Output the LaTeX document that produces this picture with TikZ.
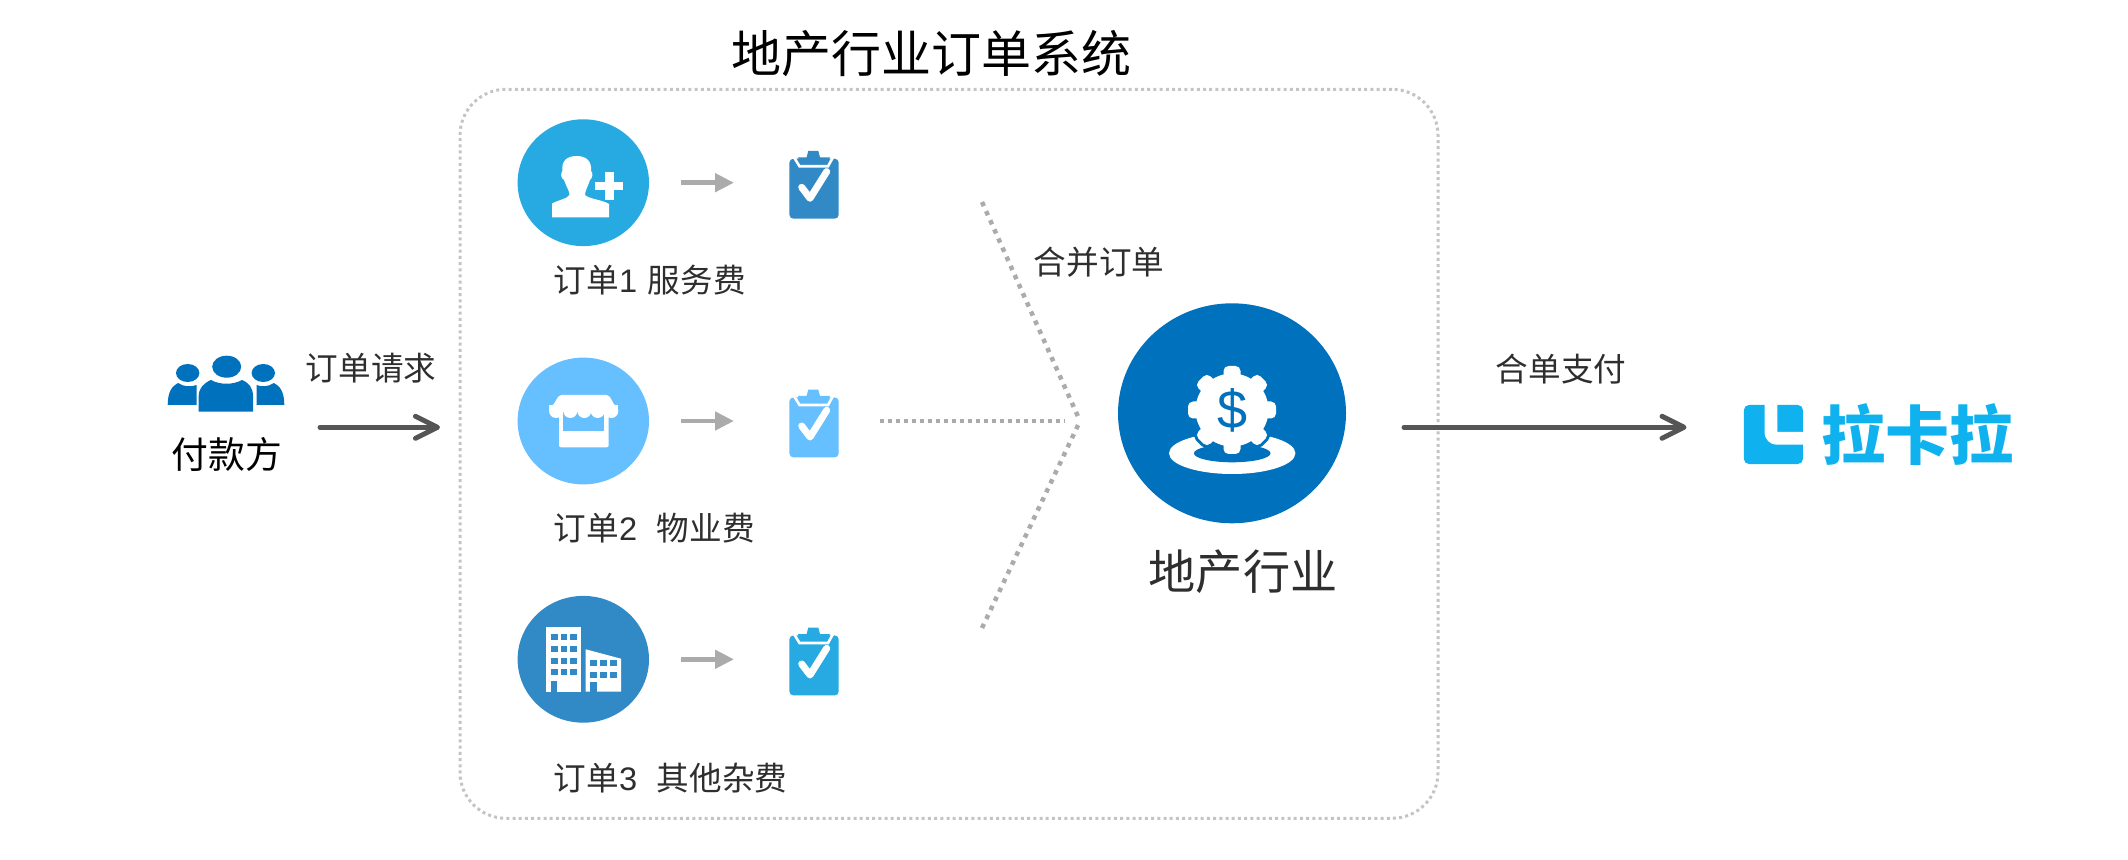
\documentclass[tikz,border=0pt]{standalone}
\usepackage{fontspec}
\setmainfont{Noto Sans CJK SC}
\newfontfamily\digitfont{Liberation Sans}
\usetikzlibrary{arrows.meta,shapes.geometric}
\newlength{\du}
\setlength{\du}{0.5pt}
\definecolor{deepblue}{HTML}{0071BC}
\definecolor{skyblue}{HTML}{27AAE1}
\definecolor{paleblue}{HTML}{66BFFF}
\definecolor{midblue}{HTML}{318AC6}
\definecolor{logoblue}{HTML}{0FB2EE}
\definecolor{framegray}{HTML}{C4C4C4}
\definecolor{dotgray}{HTML}{ABABAB}
\definecolor{arrowgray}{HTML}{555555}
\definecolor{inkgray}{HTML}{2E2E2E}
\tikzset{
  roundicon/.style={ellipse,inner sep=0pt,minimum width=131.4\du,minimum height=126.8\du},
  clipbody/.style={rectangle,rounded corners=2pt,inner sep=0pt,minimum width=49.3\du,minimum height=60\du,anchor=north west},
  smalltext/.style={font=\fontsize{16.3pt}{18pt}\selectfont,text=inkgray,inner sep=0pt},
  ordertext/.style={smalltext,anchor=west},
  bigarrow/.style={arrowgray,line width=2.5pt,line cap=round,-{Straight Barb[round,length=11pt,width=11pt]}},
  minorarrow/.style={dotgray,line width=2.35pt,-{Triangle[length=9.5pt,width=9pt]}},
  mergeline/.style={dotgray,line width=2.25pt,dash pattern=on 2.25pt off 2.75pt},
}
% clipboard: name, x, y, colour
\newcommand{\clipboard}[4]{
  \node[clipbody,fill=#4] (#1) at (#2,#3) {};
  \begin{scope}[shift={(#2,#3)}]
    \draw[white,line width=1.3pt] (5,-1)--(10.5,8)--(39,8)--(44,-1);
    \fill[#4] (19.3,-7.3)--(29.3,-7.3)--(31,-1)--(41,-1)--(37.7,5)--(12.7,5)--(8.7,-1)--(17.6,-1)--cycle;
    \draw[white,line width=3.5pt,line cap=round,line join=round] (12.7,29)--(21,40)--(37.7,13.3);
  \end{scope}
}
\begin{document}
\begin{tikzpicture}[x=\du,y=-\du]
\useasboundingbox (0,0) rectangle (2128,860);
% frame and title
\node[draw=framegray,line width=1.5pt,dash pattern=on 1.5pt off 1.6pt,rounded corners=23pt,inner sep=0pt,minimum width=978\du,minimum height=729\du] (frame) at (949,453.8) {};
\node[font=\fontsize{25pt}{28pt}\selectfont,text=black,inner sep=0pt] (title) at (931,54) {地产行业订单系统};
% payer
\fill[deepblue] (187.7,373) ellipse [x radius=11.7,y radius=9];
\fill[deepblue] (263.3,373) ellipse [x radius=11.7,y radius=9];
\fill[deepblue] (167.7,405) .. controls (167.7,392) and (172,386) .. (178,383) .. controls (184,387) and (191,387) .. (196.7,385)--(196.7,405)--cycle;
\fill[deepblue] (284.3,405) .. controls (284.3,392) and (280,386) .. (274,383) .. controls (268,387) and (261,387) .. (256.7,385)--(256.7,405)--cycle;
\fill[deepblue] (226.7,366.7) ellipse [x radius=14.5,y radius=11];
\fill[deepblue] (198.7,411.7)--(198.7,396) .. controls (198.7,388) and (204,383) .. (211,380) .. controls (220,385) and (233,385) .. (242,380) .. controls (249,383) and (253,388) .. (253,396)--(253,411.7)--cycle;
\node[font=\fontsize{18.4pt}{20pt}\selectfont,text=black,inner sep=0pt] (payer) at (227,454) {付款方};
\node[smalltext] (reqlabel) at (371,368) {订单请求};
\coordinate (reqfrom) at (320,427.3);
\draw[bigarrow,shorten >=18.5\du] (reqfrom) -- (frame.west |- reqfrom);
% order 1
\node[roundicon,fill=skyblue] (ordera) at (583.3,182.7) {};
\fill[white] (552,217.3)--(552,203.5) .. controls (558,200) and (567,199) .. (569.5,195) .. controls (570,192) and (566,186) .. (564,180) .. controls (560,178) and (561,172) .. (562.5,171) .. controls (561,161) and (567,156) .. (576.7,156) .. controls (586,156) and (592,161) .. (591,171) .. controls (593,172) and (593,178) .. (590,180) .. controls (588,186) and (585,191) .. (585,195) .. controls (589,199) and (603,200) .. (609,204)--(609,217.3)--cycle;
\draw[skyblue,line width=2.5pt] (595,186.2)--(623.3,186.2) (609.2,172.3)--(609.2,200);
\draw[white,line width=4.3pt] (595,186.2)--(623.3,186.2) (609.2,172.3)--(609.2,200);
\clipboard{clipa}{789}{158.3}{midblue}
\draw[minorarrow,shorten <=32\du,shorten >=55\du] (ordera) -- (clipa.west |- ordera);
\node[ordertext] (labela) at (553.5,280) {订单{\digitfont 1}\hspace{0.33em}服务费};
% order 2
\node[roundicon,fill=paleblue] (orderb) at (583.3,421) {};
\fill[white,rounded corners=1pt] (559.3,395)--(608.7,395)--(618.3,411.7)--(549,411.7)--cycle;
\fill[white,rounded corners=1pt] (559,405)--(608.7,405)--(608.7,447.3)--(559,447.3)--cycle;
\fill[paleblue] (563.3,408)--(604,408)--(604,430.7)--(563.3,430.7)--cycle;
\fill[white] (549,405)--(618.3,405)--(618.3,411.7)--(549,411.7)--cycle;
\foreach \sx/\sr in {556/7,570.3/7,584.3/7,597.7/7,611.3/7}
  \fill[white] (\sx,411) circle [radius=\sr];
\clipboard{clipb}{789}{397}{paleblue}
\draw[minorarrow,shorten <=32\du,shorten >=55\du] (orderb) -- (clipb.west |- orderb);
\node[ordertext] (labelb) at (553.5,528) {订单{\digitfont 2}\hspace{0.6em}物业费};
% order 3
\node[roundicon,fill=midblue] (orderc) at (583.3,659.3) {};
\fill[white] (546,627.3)--(581.3,627.3)--(581.3,691.7)--(546,691.7)--cycle;
\fill[white] (585.7,649.3)--(621,658.7)--(621,691.7)--(585.7,691.7)--cycle;
\foreach \wy in {634,645.7,657.7,669.3}
  \foreach \wx in {551,560.7,570.3}
    \fill[midblue] (\wx,\wy) rectangle ++(6.7,6);
\foreach \wy in {660,671.7}
  \foreach \wx in {590.3,600,610}
    \fill[midblue] (\wx,\wy) rectangle ++(6.7,6);
\fill[midblue] (551,681) rectangle (557.3,691.7);
\fill[midblue] (590.3,682) rectangle (596.7,691.7);
\clipboard{clipc}{789}{635}{skyblue}
\draw[minorarrow,shorten <=32\du,shorten >=55\du] (orderc) -- (clipc.west |- orderc);
\node[ordertext] (labelc) at (553.5,778) {订单{\digitfont 3}\hspace{0.6em}其他杂费};
% merge
\coordinate (mergetop) at (982,202);
\coordinate (mergetip) at (1080,421);
\coordinate (mergebot) at (982,628);
\draw[mergeline] (mergetop) -- (mergetip);
\draw[mergeline] (mergebot) -- (mergetip);
\draw[dotgray,line width=1.8pt,dash pattern=on 2pt off 2pt,shorten <=41\du,shorten >=15\du] (clipb.east |- mergetip) -- (mergetip);
\node[smalltext] (mergelabel) at (1099,262) {合并订单};
% industry
\node[ellipse,fill=deepblue,inner sep=0pt,minimum width=228\du,minimum height=220\du] (estate) at (1232,413.3) {};
\fill[white] (1232.2,453.3) ellipse [x radius=63.2,y radius=20.7];
\fill[deepblue] (1232.2,453.3) ellipse [x radius=38.3,y radius=9];
\fill[deepblue] (1232,410) circle [radius=41];
\foreach \a in {0,45,...,315}
  \draw[deepblue,line width=3pt,rounded corners=2.5pt,rotate around={\a:(1232,410)}] (1223.5,366)--(1240.5,366)--(1240.5,410)--(1223.5,410)--cycle;
\fill[white] (1232,410) circle [radius=36.5];
\foreach \a in {0,45,...,315}
  \fill[white,rounded corners=2.5pt,rotate around={\a:(1232,410)}] (1223.5,366)--(1240.5,366)--(1240.5,410)--(1223.5,410)--cycle;
\node[font=\fontsize{27pt}{30pt}\selectfont\digitfont,text=deepblue,inner sep=0pt] (dollar) at (1232,410) {\$};
\node[font=\fontsize{23.6pt}{26pt}\selectfont,text=inkgray,inner sep=0pt] (estatelabel) at (1243,572) {地产行业};
% pay out
\node[smalltext] (paylabel) at (1561,369) {合单支付};
\node[fill=logoblue,rounded corners=2.5pt,inner sep=0pt,minimum size=59\du] (logomark) at (1773.4,434.5) {};
\draw[white,line width=6.4pt,rounded corners=3pt] (1771,404) -- (1771,438.3) -- (1804,438.3);
\node[font=\fontsize{32pt}{34pt}\selectfont\bfseries,text=logoblue,inner sep=0pt] (logotext) at (1917,434.5) {拉卡拉};
\coordinate (payfrom) at (1404,427.3);
\draw[bigarrow,shorten >=57\du] (payfrom) -- (logomark.west |- payfrom);
\end{tikzpicture}
\end{document}
